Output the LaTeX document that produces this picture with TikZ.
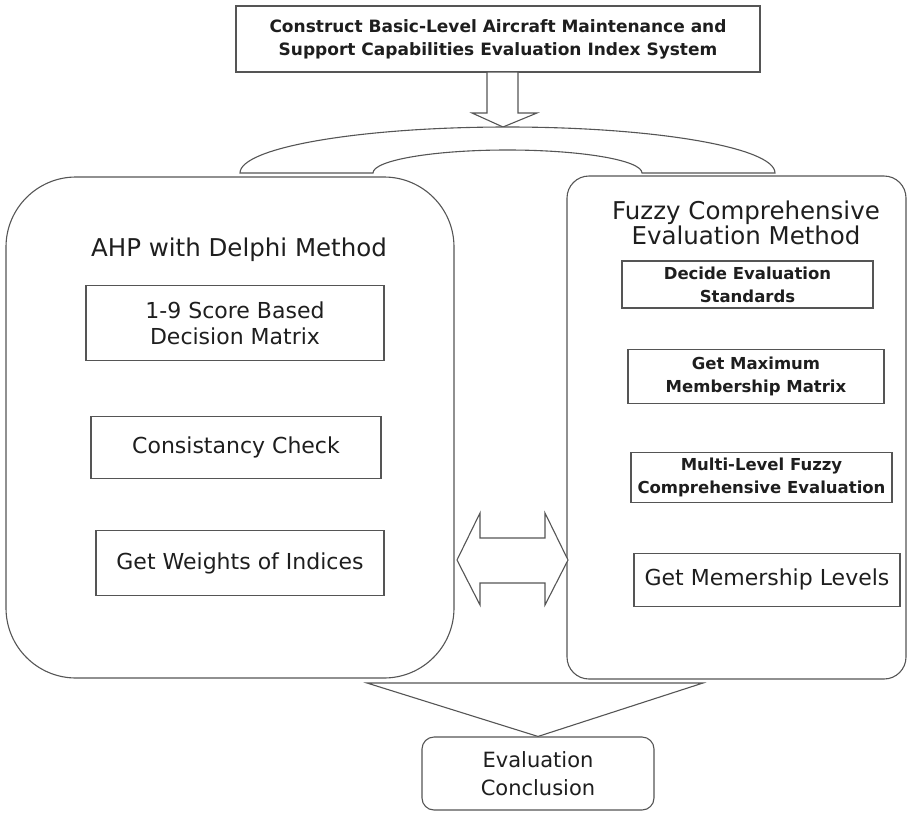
\documentclass[tikz,border=0pt]{standalone}
\usepackage{fontspec}
\setmainfont{DejaVu Sans}
\usepackage{xcolor}
\usepackage{tikz}
\usetikzlibrary{positioning}
\definecolor{linegray}{RGB}{85,85,85}
\definecolor{textgray}{RGB}{30,30,30}
\newcommand{\fsz}[2]{\fontsize{#1}{#2}\selectfont}

\begin{document}
\begin{tikzpicture}[
      x=1pt, y=1pt,
      every node/.style={text=textgray},
      box/.style={draw=linegray, line width=1.1pt, inner sep=0pt, align=center},
      bbox/.style={box, font=\bfseries\fsz{16.5}{23}},
      pbox/.style={box, font=\fsz{22}{26}},
      frame/.style={draw=linegray, line width=1.1pt, inner sep=0pt},
      blk/.style={draw=linegray, line width=1.1pt, fill=white, line join=miter}
    ]
      \useasboundingbox (0,0) rectangle (908,-812);
      \node[box, font=\bfseries\fsz{17}{23}, minimum width=524, minimum height=66] (sys) at (498,-39)
        {Construct Basic-Level Aircraft Maintenance and\\Support Capabilities Evaluation Index System};
      \draw[blk] (487,-72) -- (518,-72) -- (518,-113) -- (537,-113) -- (503,-127)
        -- (472,-113) -- (487,-113) -- cycle;
      \draw[blk] (240,-173) arc[start angle=180, end angle=0, x radius=267.5, y radius=46]
        -- (642,-173) arc[start angle=0, end angle=180, x radius=134.5, y radius=23] -- cycle;
      \node[frame, rounded corners=70, minimum width=448, minimum height=501] (ahp) at (230,-427.5) {};
      \node[frame, rounded corners=22, minimum width=339, minimum height=503] (fce) at (736.5,-427.5) {};
      \node[font=\fsz{24.5}{26}, anchor=base] (ahpt) at (239,-256) {AHP with Delphi Method};
      \node[pbox, minimum width=298, minimum height=75, below=29pt of ahpt.base, xshift=-4pt] (b1)
        {1-9 Score Based\\Decision Matrix};
      \node[pbox, minimum width=290, minimum height=62, below=55pt of b1, xshift=1pt] (b2) {Consistancy Check};
      \node[pbox, minimum width=288, minimum height=65, below=51pt of b2, xshift=4pt] (b3) {Get Weights of Indices};
      \node[font=\fsz{24.5}{25}, align=center, inner sep=0pt] (fcet) at (746,-223)
        {Fuzzy Comprehensive\\Evaluation Method};
      \node[bbox, minimum width=251, minimum height=47] (f1) at (747.5,-284.5) {Decide Evaluation\\Standards};
      \node[bbox, minimum width=256, minimum height=54, below=40pt of f1, xshift=8.5pt] (f2)
        {Get Maximum\\Membership Matrix};
      \node[bbox, minimum width=261, minimum height=50, below=48pt of f2, xshift=5.5pt] (f3)
        {Multi-Level Fuzzy\\Comprehensive Evaluation};
      \node[pbox, minimum width=266, minimum height=53, below=50pt of f3, xshift=5.5pt] (f4) {Get Memership Levels};
      \draw[blk] (457,-560) -- (480,-513) -- (480,-538) -- (545,-538) -- (545,-513) -- (568,-560)
        -- (545,-605) -- (545,-583) -- (480,-583) -- (480,-605) -- cycle;
      \node[box, rounded corners=12, font=\fsz{21}{28}, minimum width=232, minimum height=73] (concl) at (538,-773.5)
        {Evaluation\\Conclusion};
      \draw[blk] (367,-683) -- (703,-683) -- (concl.north) -- cycle;
    \end{tikzpicture}
\end{document}
